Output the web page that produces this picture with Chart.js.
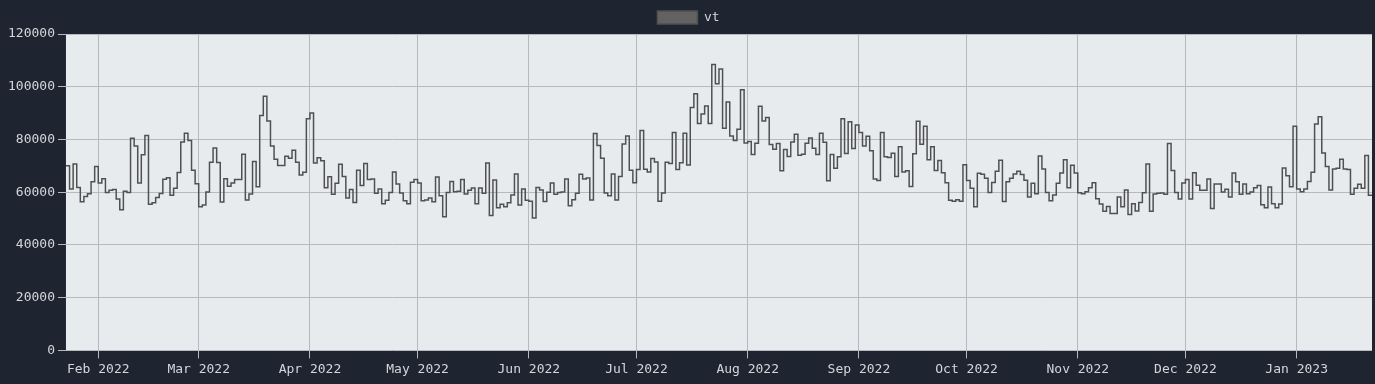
<!DOCTYPE html>
<html>
<head>
<meta charset="utf-8">
<script src="https://cdn.jsdelivr.net/npm/chart.js@4"></script>
<style>
  body { margin: 0; background: #1e2430; }
  #wrap { width: 1375px; height: 384px; }
</style>
</head>
<body>
<div id="wrap"><canvas id="vtChart"></canvas></div>
<script>
// daily values, first day = 23 Jan 2022
const startDate = Date.UTC(2022, 0, 23);
const vtValues = [
  70000, 61200, 70700, 61800, 56400, 58400, 59400, 64000, 69700, 63500,
  65100, 59900, 60700, 61000, 57400, 53300, 60400, 59900, 80500, 77500,
  63500, 74200, 81500, 55400, 56000, 58000, 59500, 64900, 65500, 58800,
  61500, 67500, 79000, 82400, 79600, 68300, 63200, 54500, 55100, 60100,
  71400, 76800, 71300, 56300, 65100, 62300, 63500, 64800, 64800, 74400,
  57000, 59300, 71600, 62100, 89100, 96400, 87000, 77500, 72500, 70100,
  70100,
  73600, 72900, 75900, 71400, 66500, 67600, 87900, 90000, 71100, 73100,
  71900, 61700, 65900, 59200, 63400, 70600, 66000, 57800, 61000, 56100,
  68300, 62500, 70900, 64800, 65000, 59600, 61200, 55600, 56900, 59900,
  67700, 63100, 59700, 56800, 55600, 63800, 64800, 63500, 56800, 57000,
  57800, 56400, 65800, 58700, 50700, 59900, 64100, 60200, 60400, 64800,
  59300, 60700, 61600, 55600, 61600, 59600, 71100, 51200, 64600, 54100,
  55400,
  54500, 56000, 58900, 66900, 55100, 61200, 56900, 56600, 50200, 61800,
  60800, 56500, 60000, 63500, 59200, 59900, 60100, 65000, 54900, 57100,
  59600, 66800, 65000, 65400, 57000, 82300, 77700, 72900, 59700, 58700,
  66900,
  57000, 66000, 78300, 81300, 68300, 63600, 68600, 83400, 68700, 67700,
  72800, 71500, 56600, 59700, 71400, 70900, 82600, 68600, 71200, 82400,
  70300, 92100, 97300, 86100, 89700, 92700, 86100, 108400, 101100, 106700,
  84300, 94200, 81300, 79600, 83900, 98900, 78700, 79200, 74300, 78600,
  92600, 87000, 88300, 78100, 76300, 78500, 68100, 76200, 73500, 79000,
  82000, 74000, 74400, 78600, 80600, 76700, 74300, 82400, 78900, 64300,
  74300,
  69100, 73400, 87900, 74700, 86700, 76600, 85500, 82600, 77500, 81200,
  75700, 65000, 64400, 82600, 73400, 73200, 74800, 66000, 77200, 67700,
  68100, 62200, 74600, 86900, 78200, 85000, 72300, 77200, 68200, 72000,
  67400,
  63600, 56900, 56600, 57100, 56600, 70400, 64400, 61500, 54500, 67200,
  66800, 65300, 59900, 63700, 67900, 72100, 56500, 64000, 65300, 66900,
  67900, 66700, 64500, 58200, 63400, 59400, 73700, 68800, 59900, 56800,
  58900,
  63400, 67300, 72300, 61700, 70200, 67300, 59800, 59400, 60200, 61700,
  63600, 57500, 55500, 52800, 54600, 51900, 51900, 58200, 54500, 60800,
  51500, 55600, 52900, 56100, 59800, 70700, 52800, 59300, 59600, 59700,
  59200,
  78500, 68200, 59900, 57400, 63500, 64800, 57400, 67400, 62600, 60700,
  60700, 65000, 53800, 63100, 63100, 60100, 61100, 58200, 67300, 64000,
  59200, 63100, 59400, 60100, 61700, 62500, 55200, 54100, 62000, 55600,
  54100, 55500, 69200, 66200, 62100, 85000, 61200, 60200, 61200, 64100,
  67600, 85900, 88600, 74900, 69700, 60800, 68800, 69100, 72500, 68800,
  68600, 59200, 61500, 63000, 61500, 73900, 58800
];

const monthLabels = ['Feb 2022', 'Mar 2022', 'Apr 2022', 'May 2022', 'Jun 2022', 'Jul 2022',
  'Aug 2022', 'Sep 2022', 'Oct 2022', 'Nov 2022', 'Dec 2022', 'Jan 2023'];
const monthStarts = [[2022, 1], [2022, 2], [2022, 3], [2022, 4], [2022, 5], [2022, 6],
  [2022, 7], [2022, 8], [2022, 9], [2022, 10], [2022, 11], [2023, 0]];

const yTicks = [0, 20000, 40000, 60000, 80000, 100000, 120000];

const DAY = 86400000;
const monthDays = monthStarts.map(([y, m]) => (Date.UTC(y, m, 1) - startDate) / DAY);

// each value holds for its whole day, so close the last step at the right edge
const points = vtValues.map((v, i) => ({ x: i, y: v }));
points.push({ x: vtValues.length, y: vtValues[vtValues.length - 1] });

const plotBg = {
  id: 'plotBg',
  beforeDraw(chart) {
    const a = chart.chartArea;
    const c = chart.ctx;
    c.save();
    c.fillStyle = '#e8ebee';
    c.fillRect(a.left, a.top, a.right - a.left, a.bottom - a.top);
    c.restore();
  }
};

Chart.defaults.font.family = '"DejaVu Sans Mono", monospace';
Chart.defaults.font.size = 13;
Chart.defaults.color = '#d4d6da';

new Chart(document.getElementById('vtChart'), {
  type: 'line',
  data: {
    datasets: [{
      label: 'vt',
      data: points,
      stepped: true,
      borderColor: '#505050',
      backgroundColor: '#626262',
      borderWidth: 1.5,
      pointRadius: 0,
      fill: false
    }]
  },
  options: {
    responsive: true,
    maintainAspectRatio: false,
    animation: false,
    layout: { padding: { left: 5, right: 3, top: 1, bottom: 4 } },
    plugins: {
      legend: {
        labels: { boxWidth: 40, color: '#d4d6da' }
      },
      tooltip: { enabled: false }
    },
    scales: {
      x: {
        type: 'linear',
        min: 0,
        max: vtValues.length,
        afterBuildTicks: (scale) => {
          scale.ticks = monthDays.map(d => ({ value: d }));
        },
        ticks: {
          autoSkip: false,
          maxRotation: 0,
          callback: (v, i) => monthLabels[i]
        },
        grid: { color: '#b6babe', tickColor: '#b6babe' },
        border: { display: false }
      },
      y: {
        min: 0,
        max: 120000,
        afterBuildTicks: (scale) => {
          scale.ticks = yTicks.map(v => ({ value: v }));
        },
        ticks: { callback: (v) => String(v) },
        grid: { color: '#b6babe', tickColor: '#b6babe' },
        border: { display: false }
      }
    }
  },
  plugins: [plotBg]
});
</script>
</body>
</html>
